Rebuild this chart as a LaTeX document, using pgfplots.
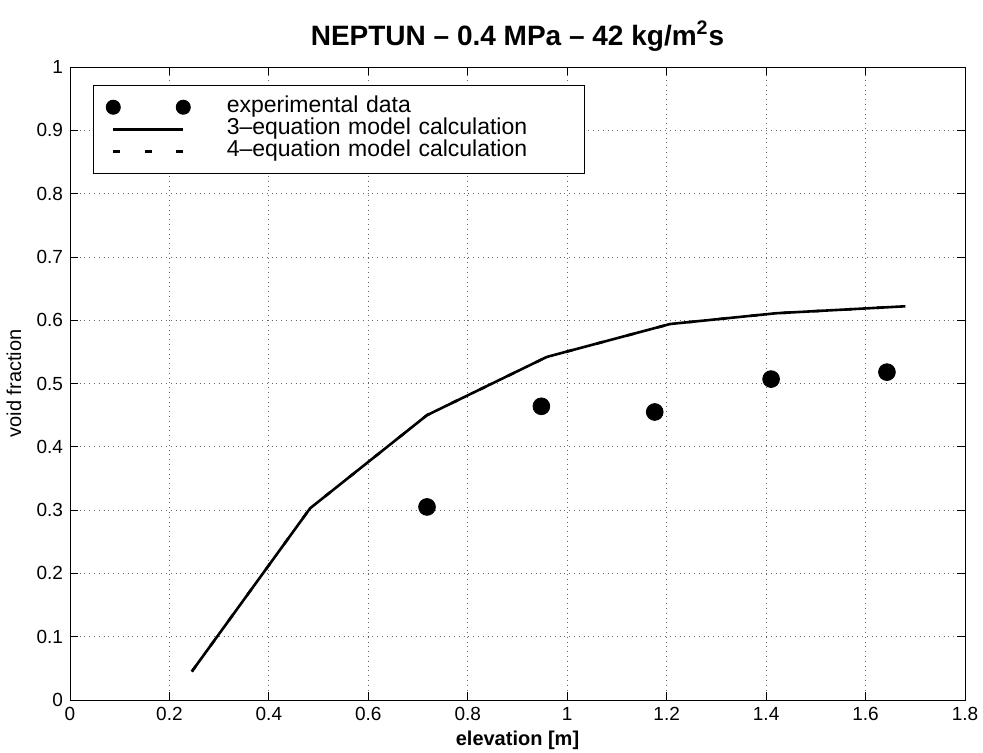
\documentclass[border=0pt]{standalone}
\usepackage{fontspec}
\setmainfont{Liberation Sans}
\usepackage{pgfplots}
\pgfplotsset{compat=1.18}
\begin{document}
\begin{tikzpicture}
\begin{axis}[
  name=ax,
  at={(0,0)}, anchor=south west,
  scale only axis, width=447.5pt, height=316.5pt,
  xmin=0, xmax=1.8, ymin=0, ymax=1,
  xtick={0,0.2,0.4,0.6,0.8,1,1.2,1.4,1.6,1.8},
  ytick={0,0.1,0.2,0.3,0.4,0.5,0.6,0.7,0.8,0.9,1},
  /pgf/number format/assume math mode=true,
  ticklabel style={font=\fontsize{9.5}{11}\selectfont},
  tick align=inside, tick pos=both, major tick length=4pt,
  tick style={black, line width=0.4pt},
  grid=major, major grid style={dotted, black!60, line width=0.4pt},
  axis line style={black, line width=0.5pt},
  title={\textbf{NEPTUN -- 0.4 MPa -- 42 kg/m\textsuperscript{2}s}},
  title style={font=\fontsize{14}{16}\selectfont, at={(0.5,1)}, anchor=base, yshift=5pt},
  xlabel={\textbf{elevation [m]}},
  xlabel style={font=\fontsize{10}{12}\selectfont, at={(0.5,0)}, anchor=center, yshift=-20pt},
  ylabel={void fraction},
  ylabel style={font=\fontsize{10}{12}\selectfont, at={(0,0.5)}, anchor=center, yshift=28pt},
  legend cell align=left,
  legend style={at={(0.026,0.972)}, anchor=north west, draw=black, line width=0.5pt,
    font=\fontsize{11.5}{11.5}\selectfont, inner xsep=6pt, inner ysep=5.5pt,
    row sep=0pt, column sep=18pt,
    nodes={inner xsep=0pt, inner ysep=0pt, text height=8pt, text depth=3pt, text width=173pt}},
  legend image code/.code={\draw[#1] (0pt,0pt) -- (35pt,0pt);},
]
\addplot[only marks, mark=*, mark size=4.2pt, black,
  legend image code/.code={\fill[black] (0pt,0pt) circle (3.5pt); \fill[black] (35pt,0pt) circle (3.5pt);}]
  coordinates {(0.718,0.305) (0.948,0.464) (1.176,0.455) (1.41,0.507) (1.643,0.518)};
\addlegendentry{experimental data}
\addplot[black, line width=1.3pt, line join=round, mark=none]
  coordinates {(0.245,0.045) (0.483,0.303) (0.718,0.450) (0.959,0.542) (1.207,0.594) (1.42,0.611) (1.68,0.622)};
\addlegendentry{3--equation model calculation}
\addplot[black, line width=1.3pt, line join=round, mark=none, dash pattern=on 3.5pt off 12.25pt]
  coordinates {(0.245,0.045) (0.483,0.303) (0.718,0.450) (0.959,0.542) (1.207,0.594) (1.42,0.611) (1.68,0.622)};
\addlegendentry{4--equation model calculation}
\end{axis}
\pgfresetboundingbox
\path[use as bounding box] (-35pt,-26pt) rectangle (456.5pt,350pt);
\end{tikzpicture}
\end{document}
